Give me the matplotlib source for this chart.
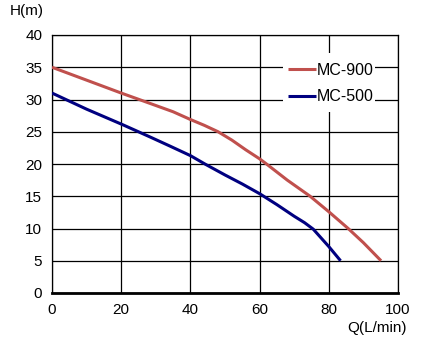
import matplotlib
matplotlib.use("Agg")
import matplotlib.pyplot as plt
from matplotlib.patches import Rectangle

plt.rcParams['font.family'] = ['Liberation Sans', 'DejaVu Sans']

mc900_q = [0, 10, 20, 28.3, 35, 40, 44, 48, 52, 56, 60, 62, 68, 74.6, 80, 85.6, 90, 95.1]
mc900_h = [35, 33, 31, 29.4, 28.1, 26.9, 26.0, 25.0, 23.7, 22.2, 20.8, 20.0, 17.5, 15.0, 12.6, 10.0, 7.8, 5.0]
mc500_q = [0, 10, 20.4, 28.3, 34, 40, 44.2, 50, 55, 60, 65, 70, 73, 75.5, 77.5, 80, 83.4]
mc500_h = [31, 28.5, 26.1, 24.2, 22.8, 21.3, 20.0, 18.3, 16.9, 15.4, 13.7, 11.9, 10.9, 9.9, 8.7, 7.2, 5.0]

xticks = [0, 20, 40, 60, 80, 100]
yticks = [0, 5, 10, 15, 20, 25, 30, 35, 40]

fig = plt.figure(figsize=(4.42, 3.42), dpi=100)
ax = fig.add_axes([52/442, 1-293/342, 346/442, 258/342])

ax.plot(mc900_q, mc900_h, color='#C0504D', lw=2.2, label='MC-900',
        solid_capstyle='butt', solid_joinstyle='round', zorder=3)
ax.plot(mc500_q, mc500_h, color='#000080', lw=2.2, label='MC-500',
        solid_capstyle='butt', solid_joinstyle='round', zorder=3)

ax.set_xlim(0, 100)
ax.set_ylim(0, 40)
ax.set_xticks(xticks)
ax.set_yticks(yticks)
ax.tick_params(length=0, labelsize=11, pad=7)
ax.grid(True, color='black', lw=0.9)
ax.set_axisbelow(True)
for s in ax.spines.values():
    s.set_linewidth(0.9)
ax.spines['bottom'].set_linewidth(2)

# white backdrop behind the legend (covers grid lines)
ax.add_patch(Rectangle((0.668, 0.7016), 0.266, 0.2287, transform=ax.transAxes,
                       facecolor='white', edgecolor='none', zorder=2))

leg = ax.legend(loc='upper left', bbox_to_anchor=(0.682, 0.893), frameon=False, fontsize=11.5,
                handlelength=1.75, handletextpad=0.05, borderpad=0, labelspacing=0.72,
                borderaxespad=0)
leg.set_zorder(4)

fig.text(10/442, 1-11/342, 'H(m)', fontsize=11, va='center', ha='left')
fig.text(407/442, 1-328/342, 'Q(L/min)', fontsize=11, va='center', ha='right')

fig.savefig('out.png', dpi=100)
